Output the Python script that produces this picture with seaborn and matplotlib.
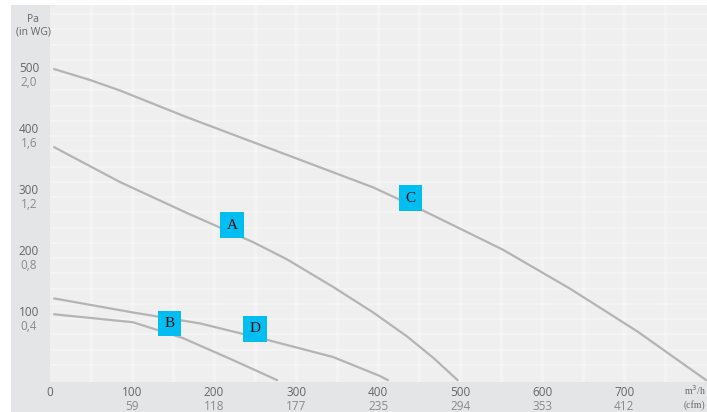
import matplotlib
import numpy as np
import matplotlib.pyplot as plt
plt.switch_backend('agg')
import pandas as pd
import seaborn as sns
from matplotlib.patches import Rectangle
from matplotlib.transforms import blended_transform_factory

# curve readings: airflow (m3/h) vs pressure (Pa)
a_flow = [5, 85, 167, 248, 289, 345, 394, 435, 467, 497]
a_pa = [382, 325, 274, 226, 198, 153, 111, 72, 37, 0]
b_flow = [5, 101, 162, 223, 277]
b_pa = [108, 95, 69, 33, 0]
c_flow = [5, 49, 85, 167, 248, 329, 394, 455, 552, 634, 716, 800]
c_pa = [510, 492, 475, 431, 390, 349, 316, 278, 214, 150, 80, 0]
d_flow = [5, 101, 183, 265, 345, 402, 412]
d_pa = [134, 111, 93, 66, 38, 7, 0]

curve_names = ['A', 'B', 'C', 'D']
label_flow = [222, 146, 439, 250]
label_pa = [254, 93, 298, 84]

x_ticks = [100, 200, 300, 400, 500, 600, 700]
x_cfm = ['59', '118', '177', '235', '294', '353', '412']
y_ticks = [100, 200, 300, 400, 500]
y_inwg = ['0,4', '0,8', '1,2', '1,6', '2,0']

frames = []
for name, fl, pa in zip(curve_names, [a_flow, b_flow, c_flow, d_flow], [a_pa, b_pa, c_pa, d_pa]):
    frames.append(pd.DataFrame({'flow': fl, 'pa': pa, 'curve': name}))
df = pd.concat(frames)

sns.set_style('white')
plt.rcParams['font.family'] = ['Open Sans', 'DejaVu Sans']

fig = plt.figure(figsize=(7.07, 4.12), dpi=100, facecolor='white')
# grey frame behind the plot
fig.patches.append(Rectangle((11 / 707, 0), 1, 407 / 412, transform=fig.transFigure,
                             facecolor='#e4e5e7', edgecolor='none', zorder=-1))
ax = fig.add_axes([50 / 707, 30 / 412, 657 / 707, 377 / 412])
ax.set_zorder(1)
ax.set_facecolor('#efefef')

for v in np.arange(50, 800, 50):
    ax.axvline(v, color='white', lw=2.5, alpha=0.3, zorder=0)
for v in np.arange(25, 620, 25):
    ax.axhline(v, color='white', lw=1.5, alpha=0.25, zorder=0)

for name in curve_names:
    sub = df[df.curve == name]
    sns.lineplot(data=sub, x='flow', y='pa', ax=ax, color='#b4b4b4', lw=1.6,
                 sort=False, estimator=None, legend=False)

for name, fx, fy in zip(curve_names, label_flow, label_pa):
    ax.text(fx, fy, name, ha='center', va='center', fontsize=11, color='#111111',
            family='Liberation Serif', zorder=5,
            bbox=dict(boxstyle='square,pad=0.42', fc='#00bdf2', ec='none'))

ax.set_xlim(0, 801)
ax.set_ylim(-3, 615)
ax.set_xticks([])
ax.set_yticks([])
ax.set_xlabel('')
ax.set_ylabel('')
for s in ax.spines.values():
    s.set_visible(False)

xt = blended_transform_factory(ax.transData, ax.transAxes)
ax.text(0, -0.029, '0', transform=xt, ha='center', va='center', fontsize=8.5, color='#666666')
for v, c in zip(x_ticks, x_cfm):
    ax.text(v, -0.029, str(v), transform=xt, ha='center', va='center', fontsize=8.5, color='#666666')
    ax.text(v, -0.066, c, transform=xt, ha='center', va='center', fontsize=8.5, color='#8a8a8a')
ax.text(1.0 - 23 / 657, -0.022, 'm$^3$/h', transform=ax.transAxes, ha='left', va='center',
        fontsize=7, color='#666666', family='Liberation Serif', clip_on=False)
ax.text(1.0 - 23 / 657, -0.062, '(cfm)', transform=ax.transAxes, ha='left', va='center',
        fontsize=7, color='#666666', family='Liberation Serif', clip_on=False)

yt = blended_transform_factory(ax.transAxes, ax.transData)
for v, w in zip(y_ticks, y_inwg):
    ax.annotate(str(v), (-0.032, v), xycoords=yt, xytext=(0, 5), textcoords='offset points',
                ha='center', va='center', fontsize=8.5, color='#666666')
    ax.annotate(w, (-0.032, v), xycoords=yt, xytext=(0, -5), textcoords='offset points',
                ha='center', va='center', fontsize=8.5, color='#8a8a8a')
fig.text(33 / 707, 1 - 20 / 412, 'Pa', ha='center', va='center', fontsize=7.5, color='#666666')
fig.text(33 / 707, 1 - 32 / 412, '(in WG)', ha='center', va='center', fontsize=7.5, color='#666666')

fig.savefig('out.png', dpi=100, facecolor='white')
